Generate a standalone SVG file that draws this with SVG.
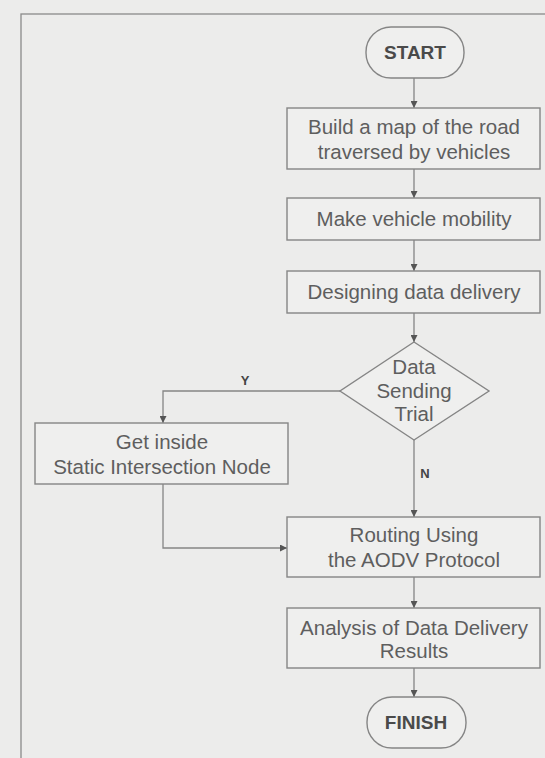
<svg xmlns="http://www.w3.org/2000/svg" width="545" height="758" viewBox="0 0 545 758">
<defs>
<marker id="ah" viewBox="0 0 10 10" refX="10" refY="5" markerWidth="7" markerHeight="7" markerUnits="userSpaceOnUse" orient="auto">
<path d="M0,0 L10,5 L0,10 Z" fill="#555"/>
</marker>
</defs>
<style>
.bg{fill:#ececeb}
.frame{fill:none;stroke:#8a8a8a;stroke-width:1.3}
.box{fill:#efefee;stroke:#858585;stroke-width:1.4}
.t{font-family:"Liberation Sans",Arial,sans-serif;font-size:20.5px;fill:#5e5e5e;text-anchor:middle}
.tb{font-family:"Liberation Sans",Arial,sans-serif;font-size:19px;font-weight:bold;fill:#4a4a4a;text-anchor:middle}
.lbl{font-family:"Liberation Sans",Arial,sans-serif;font-size:13px;font-weight:bold;fill:#444;text-anchor:middle}
.c{fill:none;stroke:#858585;stroke-width:1.3;marker-end:url(#ah)}
</style>
<rect class="bg" x="0" y="0" width="545" height="758"/>
<rect class="frame" x="21" y="14" width="600" height="800"/>
<g id="connectors">
<line class="c" x1="414" y1="78" x2="414" y2="108"/>
<line class="c" x1="414" y1="169" x2="414" y2="198"/>
<line class="c" x1="414" y1="240" x2="414" y2="271"/>
<line class="c" x1="414" y1="313" x2="414" y2="342"/>
<polyline class="c" points="340,391 163,391 163,423"/>
<line class="c" x1="414" y1="440" x2="414" y2="517"/>
<polyline class="c" points="163,484 163,548 287,548"/>
<line class="c" x1="414" y1="577" x2="414" y2="608"/>
<line class="c" x1="414" y1="668" x2="414" y2="697"/>
<text class="lbl" x="245" y="385">Y</text>
<text class="lbl" x="425" y="478">N</text>
</g>
<g id="start">
<rect class="box" x="366" y="27" width="98" height="51" rx="25" ry="25"/>
<text class="tb" x="415" y="59">START</text>
</g>
<g id="build-map">
<rect class="box" x="287" y="108" width="253" height="61"/>
<text class="t" x="414" y="134">Build a map of the road</text>
<text class="t" x="414" y="159">traversed by vehicles</text>
</g>
<g id="vehicle-mobility">
<rect class="box" x="287" y="198" width="253" height="42"/>
<text class="t" x="414" y="226">Make vehicle mobility</text>
</g>
<g id="designing">
<rect class="box" x="287" y="271" width="253" height="42"/>
<text class="t" x="414" y="299">Designing data delivery</text>
</g>
<g id="decision">
<polygon class="box" points="414,342 489,391 414,440 340,391"/>
<text class="t" x="414" y="374">Data</text>
<text class="t" x="414" y="398">Sending</text>
<text class="t" x="414" y="421">Trial</text>
</g>
<g id="static-node">
<rect class="box" x="35" y="423" width="253" height="61"/>
<text class="t" x="162" y="449">Get inside</text>
<text class="t" x="162" y="474">Static Intersection Node</text>
</g>
<g id="routing">
<rect class="box" x="287" y="517" width="253" height="60"/>
<text class="t" x="414" y="542">Routing Using</text>
<text class="t" x="414" y="567">the AODV Protocol</text>
</g>
<g id="analysis">
<rect class="box" x="287" y="608" width="253" height="60"/>
<text class="t" x="414" y="635">Analysis of Data Delivery</text>
<text class="t" x="414" y="658">Results</text>
</g>
<g id="finish">
<rect class="box" x="367" y="697" width="99" height="51" rx="25" ry="25"/>
<text class="tb" x="416" y="729">FINISH</text>
</g>
</svg>
